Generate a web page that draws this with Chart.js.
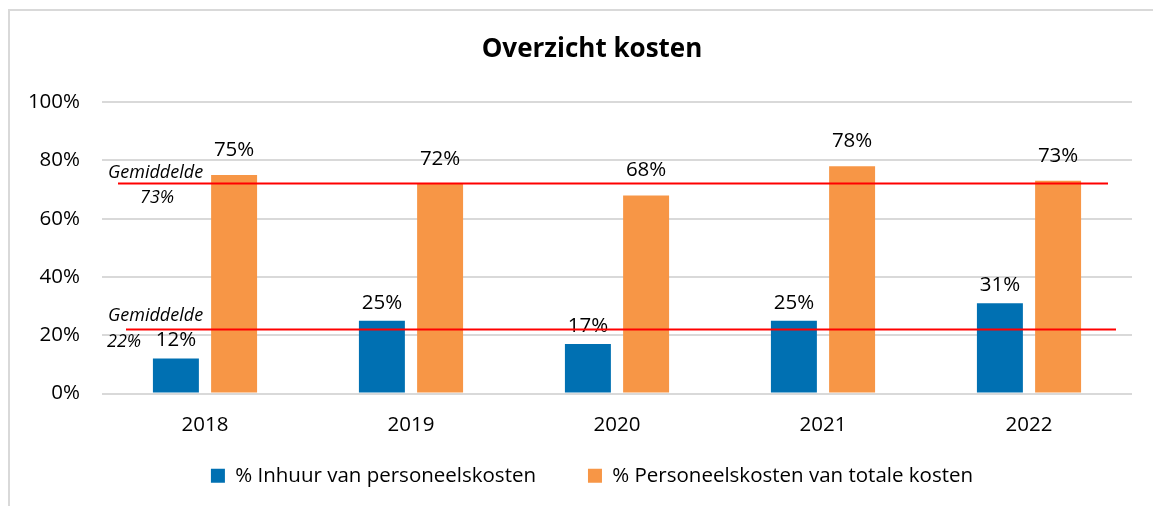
<!DOCTYPE html>
<html>
<head>
<meta charset="utf-8">
<script src="https://cdn.jsdelivr.net/npm/chart.js@4/dist/chart.umd.min.js"></script>
<style>
  html, body { margin: 0; padding: 0; background: #fff; }
  #wrap { position: relative; width: 1153px; height: 506px; }
  #frame { position: absolute; left: 8px; top: 9px; right: -4px; bottom: -4px; border: 2px solid #d9d9d9; }
  #myBarChart { position: absolute; left: 0; top: 0; }
</style>
</head>
<body>
<div id="wrap">
  <div id="frame"></div>
  <canvas id="myBarChart" width="1153" height="506"></canvas>
</div>
<script>
// ===================== Overzicht kosten bar chart =====================
var years = ['2018', '2019', '2020', '2021', '2022'];
var inhuur = [12, 25, 17, 25, 31];
var personeel = [75, 72, 68, 78, 73];
var yTicks = [0, 20, 40, 60, 80, 100];

// average lines: where the line sits and the text next to it
var avgLines = [72.3, 22.2];
var avgLabels = ['73%', '22%'];

var blue = '#0070b2';
var orange = '#f79646';
var fontName = '"Open Sans", sans-serif';
var fontSize = 20.5;

// width of the widest y tick, used to put the mirrored labels left of the axis
var measure = document.createElement('canvas').getContext('2d');
measure.font = fontSize + 'px ' + fontName;
var widestTick = measure.measureText('100%').width;

// draws the value labels and the two red average lines
var extrasPlugin = {
    id: 'extras',
    afterDatasetsDraw: function (chart) {
        var ctx = chart.ctx;
        var y = chart.scales.y;
        var area = chart.chartArea;
        ctx.save();

        // value labels above bars
        ctx.font = fontSize + 'px ' + fontName;
        ctx.fillStyle = '#000';
        ctx.textAlign = 'center';
        ctx.textBaseline = 'middle';
        chart.data.datasets.forEach(function (ds, di) {
            var meta = chart.getDatasetMeta(di);
            var off = di === 0 ? 18 : 25;
            meta.data.forEach(function (bar, i) {
                ctx.fillText(ds.data[i] + '%', bar.x, bar.y - off);
            });
        });

        // red average lines
        avgLines.forEach(function (v, i) {
            var py = Math.round(y.getPixelForValue(v)) + 0.5;
            var x0 = area.left + (i === 0 ? 16 : 24);
            var x1 = area.right - (i === 0 ? 24 : 16);
            ctx.strokeStyle = '#ff0000';
            ctx.lineWidth = 2;
            ctx.beginPath();
            ctx.moveTo(x0, py);
            ctx.lineTo(x1, py);
            ctx.stroke();

            ctx.font = 'italic 18px ' + fontName;
            ctx.textAlign = 'left';
            ctx.fillText('Gemiddelde', area.left + 6, py - (i === 0 ? 11 : 14));
            ctx.fillText(avgLabels[i], area.left + (i === 0 ? 38 : 5), py + (i === 0 ? 14 : 12));
        });
        ctx.restore();
    }
};

new Chart(document.getElementById('myBarChart'), {
    type: 'bar',
    data: {
        labels: years,
        datasets: [
            {
                label: '% Inhuur van personeelskosten',
                backgroundColor: blue,
                data: inhuur,
                barPercentage: 0.79,
                categoryPercentage: 0.565
            },
            {
                label: '% Personeelskosten van totale kosten',
                backgroundColor: orange,
                data: personeel,
                barPercentage: 0.79,
                categoryPercentage: 0.565
            }
        ]
    },
    plugins: [extrasPlugin],
    options: {
        responsive: false,
        animation: false,
        layout: { padding: { left: 52, right: 21, top: 0, bottom: 10 } },
        plugins: {
            title: {
                display: true,
                text: 'Overzicht kosten',
                color: '#000',
                font: { family: fontName, size: 26, weight: 'bold' },
                padding: { top: 34, bottom: 37 }
            },
            legend: {
                position: 'bottom',
                labels: {
                    color: '#000',
                    font: { family: fontName, size: fontSize },
                    boxWidth: 14,
                    boxHeight: 14,
                    padding: 20,
                    generateLabels: function (chart) {
                        var items = Chart.defaults.plugins.legend.labels.generateLabels(chart);
                        // extra room between the two entries
                        items[0].text += '      ';
                        return items;
                    }
                }
            },
            tooltip: { enabled: false }
        },
        scales: {
            x: {
                grid: { display: false, drawTicks: false },
                border: { display: false },
                ticks: { color: '#000', font: { family: fontName, size: fontSize }, padding: 19 },
                afterFit: function (s) { s.height = 52; }
            },
            y: {
                min: 0,
                max: 100,
                afterBuildTicks: function (s) {
                    s.ticks = yTicks.map(function (v) { return { value: v }; });
                },
                grid: { color: '#d9d9d9', lineWidth: 2, drawTicks: false },
                border: { display: false },
                ticks: {
                    color: '#000',
                    font: { family: fontName, size: fontSize },
                    mirror: true,
                    crossAlign: 'far',
                    padding: -22 - widestTick,
                    callback: function (v) { return v + '%'; }
                },
                afterFit: function (s) { s.width = 50; }
            }
        }
    }
});
</script>
</body>
</html>
